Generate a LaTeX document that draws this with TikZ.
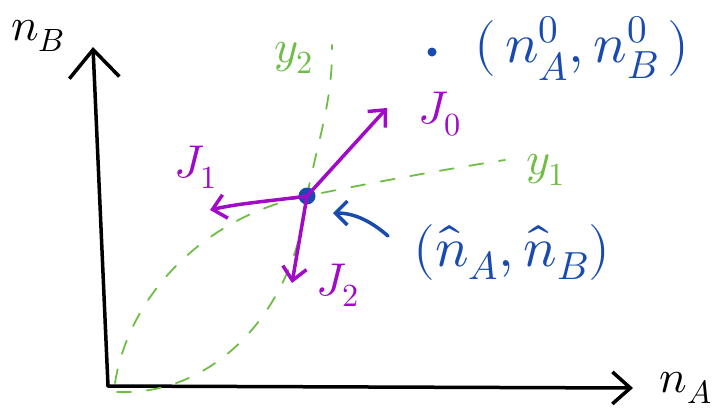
\documentclass[tikz,border=0pt]{standalone}
\usepackage{fontspec}
\usepackage{unicode-math}
\usetikzlibrary{arrows.meta}
\definecolor{jpurple}{RGB}{160,10,200}
\definecolor{pblue}{RGB}{25,75,175}
\definecolor{cgreen}{RGB}{110,190,70}
\begin{document}
\begin{tikzpicture}[x=1pt,y=-1pt,line cap=round,line join=round,
  axis/.style={line width=3.5pt,black},
  flux/.style={line width=3.5pt,jpurple,-{Straight Barb[length=13pt,width=24pt]}},
  curve/.style={line width=1.8pt,cgreen,dash pattern=on 14pt off 16pt},
  lbl/.style={inner sep=0pt,font=\fontsize{46}{54}\selectfont},
  big/.style={inner sep=0pt,font=\fontsize{56}{64}\selectfont}]
\useasboundingbox (0,0) rectangle (717,410);
% axes
\coordinate (o) at (108,386);
\coordinate (ytip) at (93,47);
\coordinate (xtip) at (633,388);
\draw[axis,-{Straight Barb[length=28pt,width=50pt]}] (o) -- (ytip);
\draw[axis,-{Straight Barb[length=18pt,width=32pt]}] (o) -- (xtip);
\node[lbl] (nb) at (38,36) {$n_B$};
\node[lbl] (na) at (686,388) {$n_A$};
% curves
\draw[curve] (115,383) .. controls (130,290) and (210,215) .. (307,196)
  .. controls (360,185) and (440,170) .. (505,160);
\draw[curve] (117,392) .. controls (215,396) and (295,310) .. (307,196)
  .. controls (318,140) and (333,100) .. (332,45);
\node[lbl,cgreen] (y2) at (294,58) {$y_2$};
\node[lbl,cgreen] (y1) at (546,170) {$y_1$};
% point and fluxes
\node[circle,fill=pblue,minimum size=17pt,inner sep=0pt] (p) at (307,196) {};
\coordinate (j0) at (387,108);
\coordinate (j1) at (210,210);
\coordinate (j2) at (292,283);
\draw[flux] (p.center) -- (j0);
\draw[flux] (p.center) .. controls (280,200) and (240,203) .. (j1);
\draw[flux] (p.center) -- (j2);
\node[lbl,jpurple] (J0) at (440,114) {$J_0$};
\node[lbl,jpurple] (J1) at (196,167) {$J_1$};
\node[lbl,jpurple] (J2) at (338,285) {$J_2$};
% labels
\node[circle,fill=pblue,minimum size=9pt,inner sep=0pt] (d0) at (432,52) {};
\node[big,pblue] (n0) at (582,48) {$(\,n_A^0,n_B^0\,)$};
\node[big,pblue] (nh) at (512,252) {$(\hat n_A,\hat n_B)$};
\coordinate (bs) at (388,236);
\coordinate (bt) at (333,213);
\draw[line width=3.5pt,pblue,-{Straight Barb[length=12pt,width=24pt]}] (bs) .. controls (372,222) and (355,213) .. (bt);
\end{tikzpicture}
\end{document}
